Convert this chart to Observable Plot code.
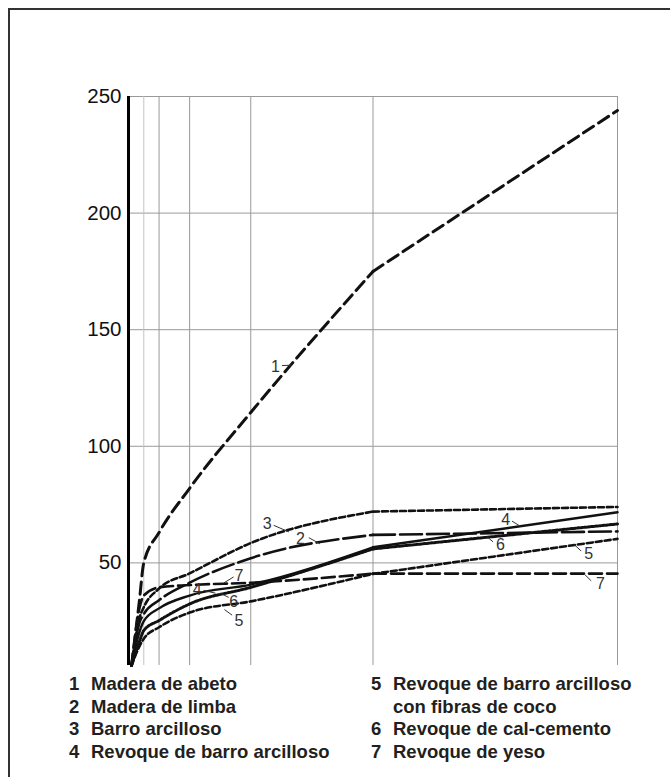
<!DOCTYPE html>
<html>
<head>
<meta charset="utf-8">
<script src="https://cdn.jsdelivr.net/npm/d3@7"></script>
<script src="https://cdn.jsdelivr.net/npm/@observablehq/plot@0.6"></script>
<style>
  html, body { margin: 0; padding: 0; background: #fff; overflow: hidden; width: 670px; height: 777px; }
  #frame { position: absolute; left: 8px; top: 8px; width: 720px; height: 820px; border: 2.5px solid #333; }
  #chart { position: absolute; left: 0; top: 0; }
  .leg { position: absolute; font-family: "Liberation Sans", Arial, sans-serif; font-weight: bold; font-size: 18.5px; color: #231f20; line-height: 22px; white-space: nowrap; }
  .leg .n { position: absolute; left: 0; }
  .leg .t { position: absolute; left: 22px; }
</style>
</head>
<body>
<div id="frame"></div>
<div id="chart"></div>
<div id="legend"></div>
<script>
// Time axis positions (gridlines) and sample points of each curve
const xGrid = [0.5, 1, 2, 4, 8, 16];
const yTicks = [50, 100, 150, 200, 250];
const times = [0.1, 0.35, 0.5, 1, 2, 4, 8, 16];

// Curves 1–7
const abeto        = [6, 33, 50, 63, 82, 114.5, 175, 244];
const limba        = [6, 24, 28, 34, 41.5, 52, 62, 63.5];
const barro        = [6, 26, 31, 39, 45.5, 58.5, 72, 74];
const revoqueBarro = [6, 20, 25, 30.5, 36, 40.7, 56.7, 71.7];
const revoqueCoco  = [6, 14, 17.5, 22.4, 28.7, 33.5, 45.3, 60.3];
const calCemento   = [6, 16, 21, 25.3, 32.4, 39.5, 56, 66.7];
const yeso         = [6, 30, 36, 39.5, 40.5, 41.5, 45.4, 45.4];

const seriesValues = [abeto, limba, barro, revoqueBarro, revoqueCoco, calCemento, yeso];
const seriesNames = [
  "Madera de abeto",
  "Madera de limba",
  "Barro arcilloso",
  "Revoque de barro arcilloso",
  "Revoque de barro arcilloso\ncon fibras de coco",
  "Revoque de cal-cemento",
  "Revoque de yeso"
];

// Inline curve numbers and their leader lines (data units)
const labelNum = ["1", "2", "3", "4", "6", "5", "7", "4", "6", "5", "7"];
const labelX   = [4.81, 5.63, 4.54, 2.25, 3.44, 3.61, 3.61, 12.34, 12.17, 15.06, 15.44];
const labelY   = [134, 60.4, 66.9, 38.5, 33.2, 25.1, 44.6, 68.3, 57.6, 54, 41.1];
const leadX1   = [5.02, 5.9, 4.75, 2.46, 3.28, 3.39, 3.44, 12.55, 11.93, 14.81, 15.14];
const leadY1   = [134.6, 60.8, 66.1, 38.2, 35.2, 27.6, 44, 67.9, 59, 55.1, 42.3];
const leadX2   = [5.35, 6.26, 5.25, 2.85, 3.0, 3.14, 3.12, 12.82, 11.74, 14.57, 14.92];
const leadY2   = [134.8, 58.2, 63.3, 37.0, 37.0, 30, 41.4, 65.7, 61.1, 58, 45.1];

// Line styles per curve
const styles = [
  {dash: "12,6", width: 3},
  {dash: "22,5", width: 2.6},
  {dash: "6,3", width: 2.6},
  {dash: null, width: 2.4},
  {dash: "6,3", width: 2.6},
  {dash: "2,1.6", width: 3},
  {dash: "13,5", width: 2.6}
];

// Smooth rise up to t = 8, straight segment from 8 to 16
const lineMarks = seriesValues.flatMap((vals, i) => {
  const pts = times.map((t, j) => ({t, v: vals[j]}));
  const base = {x: "t", y: "v", stroke: "#111", strokeWidth: styles[i].width, strokeLinejoin: "round"};
  if (styles[i].dash) base.strokeDasharray = styles[i].dash;
  return [
    Plot.line(pts.filter(d => d.t <= 8), {...base, curve: "monotone-x"}),
    Plot.line(pts.filter(d => d.t >= 8), {...base, curve: "linear"})
  ];
});

const labels = labelNum.map((n, i) => ({n, x: labelX[i], y: labelY[i], x1: leadX1[i], y1: leadY1[i], x2: leadX2[i], y2: leadY2[i]}));

const chart = Plot.plot({
  width: 670,
  height: 670,
  marginTop: 96,
  marginBottom: 5,
  marginLeft: 128,
  marginRight: 53,
  style: {fontFamily: "'Liberation Sans', Arial, sans-serif", background: "transparent"},
  x: {domain: [0, 16], axis: null},
  y: {domain: [6, 250], axis: null},
  marks: [
    Plot.ruleY(yTicks, {x1: 0, x2: 16, stroke: "#999", strokeWidth: 1}),
    Plot.ruleX(xGrid, {y1: 6, y2: 250, stroke: d => d === 0.5 ? "#c4c4c4" : "#999", strokeWidth: 1}),
    Plot.ruleX([0], {y1: 6, y2: 250, stroke: "#000", strokeWidth: 3}),
    Plot.axisY(yTicks, {tickSize: 0, tickPadding: 7, fontSize: 20.5, label: null, fill: "#111"}),
    ...lineMarks,
    Plot.link(labels, {x1: "x1", y1: "y1", x2: "x2", y2: "y2", stroke: "#333", strokeWidth: 1}),
    Plot.text(labels, {x: "x", y: "y", text: "n", fontSize: 16, fill: "#333"})
  ]
});
document.getElementById("chart").appendChild(chart);

// Legend in two columns below the plot
const legend = document.getElementById("legend");
const cols = [{left: 69, items: [0, 1, 2, 3]}, {left: 371, items: [4, 5, 6]}];
const rowTop = 673;
const rowStep = 22.7;
cols.forEach(col => {
  let row = 0;
  col.items.forEach(i => {
    const lines = seriesNames[i].split("\n");
    lines.forEach((line, k) => {
      const div = document.createElement("div");
      div.className = "leg";
      div.style.left = col.left + "px";
      div.style.top = (rowTop + row * rowStep) + "px";
      if (k === 0) {
        const n = document.createElement("span");
        n.className = "n";
        n.textContent = String(i + 1);
        div.appendChild(n);
      }
      const t = document.createElement("span");
      t.className = "t";
      t.textContent = line;
      div.appendChild(t);
      legend.appendChild(div);
      row++;
    });
  });
});
</script>
</body>
</html>
